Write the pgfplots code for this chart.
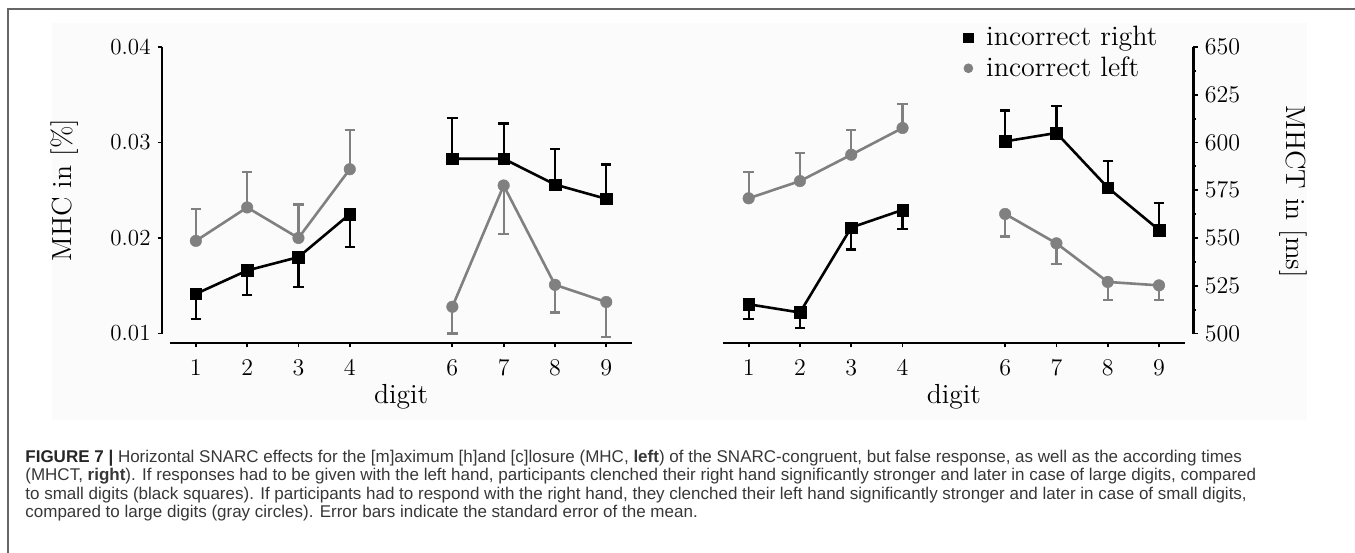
\documentclass[border=0pt]{standalone}
\usepackage{fontspec}
\usepackage{pgfplots}
\pgfplotsset{compat=1.18}
\newfontfamily\capfont{Liberation Sans}
\definecolor{mygray}{RGB}{128,128,128}
\definecolor{bgc}{RGB}{251,251,251}
\definecolor{captxt}{RGB}{55,55,55}
\newcommand{\tickfont}{\fontsize{11.5}{13}\selectfont}
\newcommand{\labfont}{\fontsize{13.8}{16}\selectfont}

\pgfplotsset{
  panel/.style={
    scale only axis, height=143.25pt,
    separate axis lines,
    axis x line*=bottom,
    axis line style={line width=1.1pt},
    axis x line shift=4.75pt,
    tick align=outside,
    major tick length=2.2pt, minor tick length=1.4pt,
    every tick/.style={black, line width=0.9pt},
    xtick={1,2,3,4,6,7,8,9},
    ticklabel style={font=\tickfont},
    xticklabel style={yshift=-3pt},
    label style={font=\labfont},
    xlabel={digit},
    scaled y ticks=false,
    clip=false,
  },
  ser/.style={line width=1.3pt, mark size=2.9pt,
    error bars/y explicit, error bars/y dir=#1,
    error bars/error bar style={line width=1.1pt, solid},
    error bars/error mark options={rotate=90, mark size=2.6pt, line width=1.1pt}},
  blk/.style={ser=#1, black, mark=square*, mark options={solid, line width=0.2pt}},
  gry/.style={ser=#1, mygray, mark=*, mark options={solid, line width=0.2pt}},
}

\begin{document}
\begin{tikzpicture}
\path[use as bounding box] (0,0) rectangle (677.5pt,-276pt);
\fill[bgc] (26pt,-11.5pt) rectangle (653.5pt,-210pt);
\draw[black!60, line width=0.8pt] (4pt,-290pt) -- (4pt,-4.5pt) -- (690pt,-4.5pt);

% ---------------- left panel: MHC ----------------
\begin{axis}[panel, at={(81pt,-166.75pt)}, anchor=south west,
  width=234.95pt, xmin=0.34, xmax=9.5,
  ymin=0.01, ymax=0.04, ytick={0.01,0.02,0.03,0.04},
  yticklabels={0.01,0.02,0.03,0.04},
  axis y line*=left,
  x axis line style={shorten <=4.1pt},
  xlabel style={at={(axis description cs:0.5087,0)}, anchor=center, yshift=-31.75pt},
  ylabel={MHC in [\%]},
  ylabel style={at={(axis description cs:-0.2064,0.5)}, anchor=center},
]
\addplot[blk=minus] table[y error=e]{
x y e
1 0.01415 0.00265
2 0.0166 0.0026
3 0.0180 0.0031
4 0.0225 0.0034
};
\addplot[blk=plus] table[y error=e]{
x y e
6 0.0283 0.0043
7 0.0283 0.0037
8 0.0256 0.0037
9 0.0241 0.0036
};
\addplot[gry=plus] table[y error=e]{
x y e
1 0.0197 0.0033
2 0.0232 0.0037
3 0.0200 0.0035
4 0.0272 0.0041
};
\addplot[gry=minus] table[y error=e]{
x y e
6 0.0128 0.0028
7 0.0255 0.0051
8 0.0151 0.0029
9 0.0133 0.0037
};
\end{axis}

% ---------------- right panel: MHCT ----------------
\begin{axis}[panel, at={(361.5pt,-166.75pt)}, anchor=south west,
  width=235.2pt, xmin=0.5, xmax=9.67,
  ymin=500, ymax=650, ytick={500,525,550,575,600,625,650}, minor y tick num=1,
  axis y line*=right,
  x axis line style={shorten >=4.3pt},
  xlabel style={at={(axis description cs:0.4907,0)}, anchor=center, yshift=-31.75pt},
  ylabel={MHCT in [ms]},
  ylabel style={at={(axis description cs:1.2117,0.495)}, anchor=center, rotate=180},
  legend style={at={(axis description cs:0.5106,1.08)}, anchor=north west,
    draw=none, fill=none, font=\fontsize{14}{16}\selectfont, inner sep=0pt, row sep=2pt,
    nodes={inner sep=1pt},
    /tikz/every odd column/.append style={column sep=5.5pt}},
  legend cell align=left,
  legend image code/.code={\draw[#1] plot coordinates {(0cm,0cm)};},
]
\addlegendimage{only marks, mark=square*, black, mark size=2.4pt}
\addlegendentry{incorrect right}
\addlegendimage{only marks, mark=*, mygray, mark size=2.2pt}
\addlegendentry{incorrect left}
\addplot[blk=minus] table[y error=e]{
x y e
1 515.3 7.5
2 511.0 8.0
3 555.5 11.5
4 564.7 9.8
};
\addplot[gry=plus] table[y error=e]{
x y e
1 570.8 13.8
2 579.8 14.6
3 593.6 13.0
4 607.6 12.5
};
\addplot[blk=plus] table[y error=e]{
x y e
6 600.6 16.2
7 605.0 14.2
8 576.4 14.0
9 554.2 14.3
};
\addplot[gry=minus] table[y error=e]{
x y e
6 562.6 11.8
7 547.2 11.0
8 527.0 9.5
9 525.2 7.7
};
\end{axis}

% ---------------- caption ----------------
\begin{scope}[every node/.style={anchor=base west, inner sep=0pt, font=\capfont\fontsize{8.5}{9.25}\selectfont, text=captxt}]
\node at (12.5pt,-231pt) {\textcolor{black!85}{\bfseries FIGURE 7 |} Horizontal SNARC effects for the [m]aximum [h]and [c]losure (MHC, \textbf{left}) of the SNARC-congruent, but false response, as well as the according times};
\node at (12.5pt,-240.25pt) {(MHCT, \textbf{right}). If responses had to be given with the left hand, participants clenched their right hand significantly stronger and later in case of large digits, compared};
\node at (12.5pt,-249.5pt) {to small digits (black squares). If participants had to respond with the right hand, they clenched their left hand significantly stronger and later in case of small digits,};
\node at (12.5pt,-258.75pt) {compared to large digits (gray circles). Error bars indicate the standard error of the mean.};
\end{scope}
\end{tikzpicture}
\end{document}
